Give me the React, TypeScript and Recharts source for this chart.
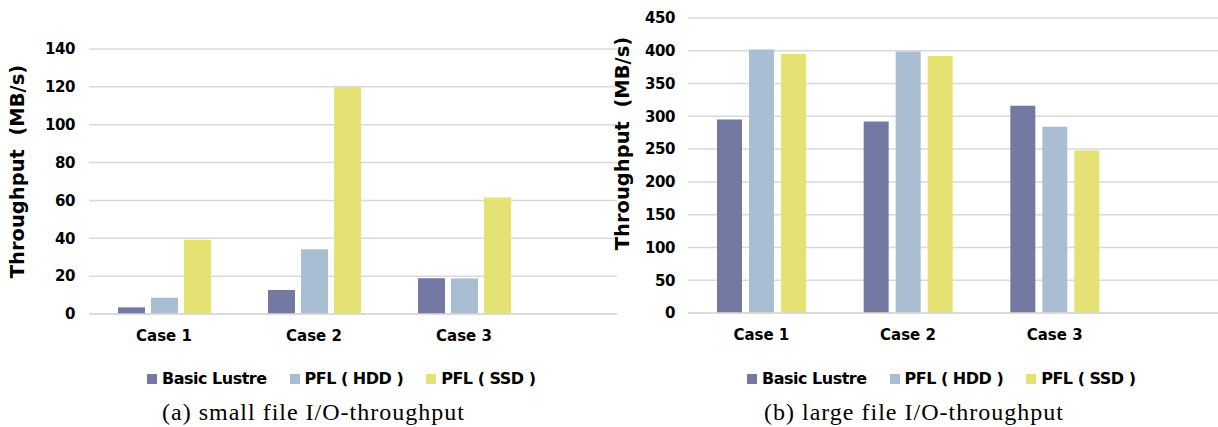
import { BarChart, Bar, XAxis, YAxis, CartesianGrid, Legend } from "recharts";

const categories = ["Case 1", "Case 2", "Case 3"];
const seriesNames = ["Basic Lustre", "PFL ( HDD )", "PFL ( SSD )"];

const smallBasic = [3.5, 12.7, 18.9];
const smallHdd = [8.6, 34.2, 18.8];
const smallSsd = [39.2, 119.8, 61.6];
const smallTicks = [0, 20, 40, 60, 80, 100, 120, 140];

const largeBasic = [295, 292, 316];
const largeHdd = [402, 399, 284];
const largeSsd = [395, 392, 248];
const largeTicks = [0, 50, 100, 150, 200, 250, 300, 350, 400, 450];

const colors = ["#7479a3", "#a9bed3", "#e4e272"];
const sans = "'DejaVu Sans', Verdana, sans-serif";

const smallData = categories.map((c, i) => ({ name: c, basic: smallBasic[i], hdd: smallHdd[i], ssd: smallSsd[i] }));
const largeData = categories.map((c, i) => ({ name: c, basic: largeBasic[i], hdd: largeHdd[i], ssd: largeSsd[i] }));

function LegendBox(props: any) {
  const items = props.payload || [];
  return (
    <div style={{ display: "flex", alignItems: "center", fontFamily: sans, fontWeight: "bold", fontSize: 16, letterSpacing: -0.5, color: "#000" }}>
      {items.map((it: any, i: number) => (
        <div key={i} style={{ display: "flex", alignItems: "center", marginRight: i < items.length - 1 ? 23 : 0 }}>
          <span style={{ width: 10, height: 10, background: it.color, marginRight: 5, display: "inline-block" }} />
          <span>{it.value}</span>
        </div>
      ))}
    </div>
  );
}

function yLabel(dx: number, dyShift: number) {
  return (props: any) => {
    const vb = props.viewBox || {};
    const cx = vb.x + dx;
    const cy = vb.y + vb.height / 2 + dyShift;
    return (
      <text
        x={cx}
        y={cy}
        transform={`rotate(-90 ${cx} ${cy})`}
        textAnchor="middle"
        style={{ whiteSpace: "pre", fontFamily: sans, fontWeight: "bold", fontSize: 19.5, fill: "#000" }}
      >
        {"Throughput  (MB/s)"}
      </text>
    );
  };
}

function Panel(p: {
  data: any[];
  ticks: number[];
  width: number;
  top: number;
  bottom: number;
  yWidth: number;
  padRight: number;
  barSize: number;
  barGap: number;
  labelX: number;
  labelShift: number;
  tickGap: number;
}) {
  const tickStyle = { fill: "#000", fontFamily: sans, fontWeight: "bold" as const };
  return (
    <BarChart
      width={p.width}
      height={427}
      data={p.data}
      margin={{ top: p.top, right: 0, left: 0, bottom: 427 - p.bottom - 30 }}
      barGap={p.barGap}
    >
      <CartesianGrid vertical={false} stroke="#d9d9d9" strokeWidth={1.5} />
      <XAxis
        dataKey="name"
        height={30}
        tickLine={false}
        tickSize={0}
        tickMargin={16}
        axisLine={{ stroke: "#d9d9d9", strokeWidth: 1.5 }}
        padding={{ left: 0, right: p.padRight }}
        tick={{ ...tickStyle, fontSize: 15 }}
      />
      <YAxis
        width={p.yWidth}
        domain={[0, p.ticks[p.ticks.length - 1]]}
        ticks={p.ticks}
        interval={0}
        tickLine={false}
        axisLine={false}
        tickSize={0}
        tickMargin={p.tickGap}
        tick={{ ...tickStyle, fontSize: 15, letterSpacing: -0.4 }}
        label={{ content: yLabel(p.labelX, p.labelShift) }}
      />
      <Legend
        layout="horizontal"
        verticalAlign="middle"
        align="center"
        content={<LegendBox />}
        wrapperStyle={{ top: 369, left: 147, width: 460, height: 20 }}
      />
      <Bar dataKey="basic" name={seriesNames[0]} fill={colors[0]} barSize={p.barSize} isAnimationActive={false} />
      <Bar dataKey="hdd" name={seriesNames[1]} fill={colors[1]} barSize={p.barSize} isAnimationActive={false} />
      <Bar dataKey="ssd" name={seriesNames[2]} fill={colors[2]} barSize={p.barSize} isAnimationActive={false} />
    </BarChart>
  );
}

const captionStyle = {
  position: "absolute" as const,
  top: 400,
  fontFamily: "'Liberation Serif', 'Times New Roman', serif",
  fontSize: 24,
  lineHeight: "24px",
  letterSpacing: 1,
  color: "#000",
  whiteSpace: "nowrap" as const,
};

export default function App() {
  return (
    <div style={{ position: "absolute", left: 0, top: 0, width: 1218, height: 427, background: "#fff", overflow: "hidden" }}>
      <div style={{ position: "absolute", left: 0, top: 0 }}>
        <Panel data={smallData} ticks={smallTicks} width={617} top={49} bottom={314} yWidth={89} padRight={78}
          barSize={27} barGap={6} labelX={24} labelShift={-10} tickGap={14} />
      </div>
      <div style={{ position: "absolute", left: 600, top: 0 }}>
        <Panel data={largeData} ticks={largeTicks} width={618} top={18} bottom={313} yWidth={88} padRight={90}
          barSize={25} barGap={7} labelX={29} labelShift={-22} tickGap={13} />
      </div>
      <div style={{ ...captionStyle, left: 162 }}>(a) small file I/O-throughput</div>
      <div style={{ ...captionStyle, left: 764 }}>(b) large file I/O-throughput</div>
    </div>
  );
}
